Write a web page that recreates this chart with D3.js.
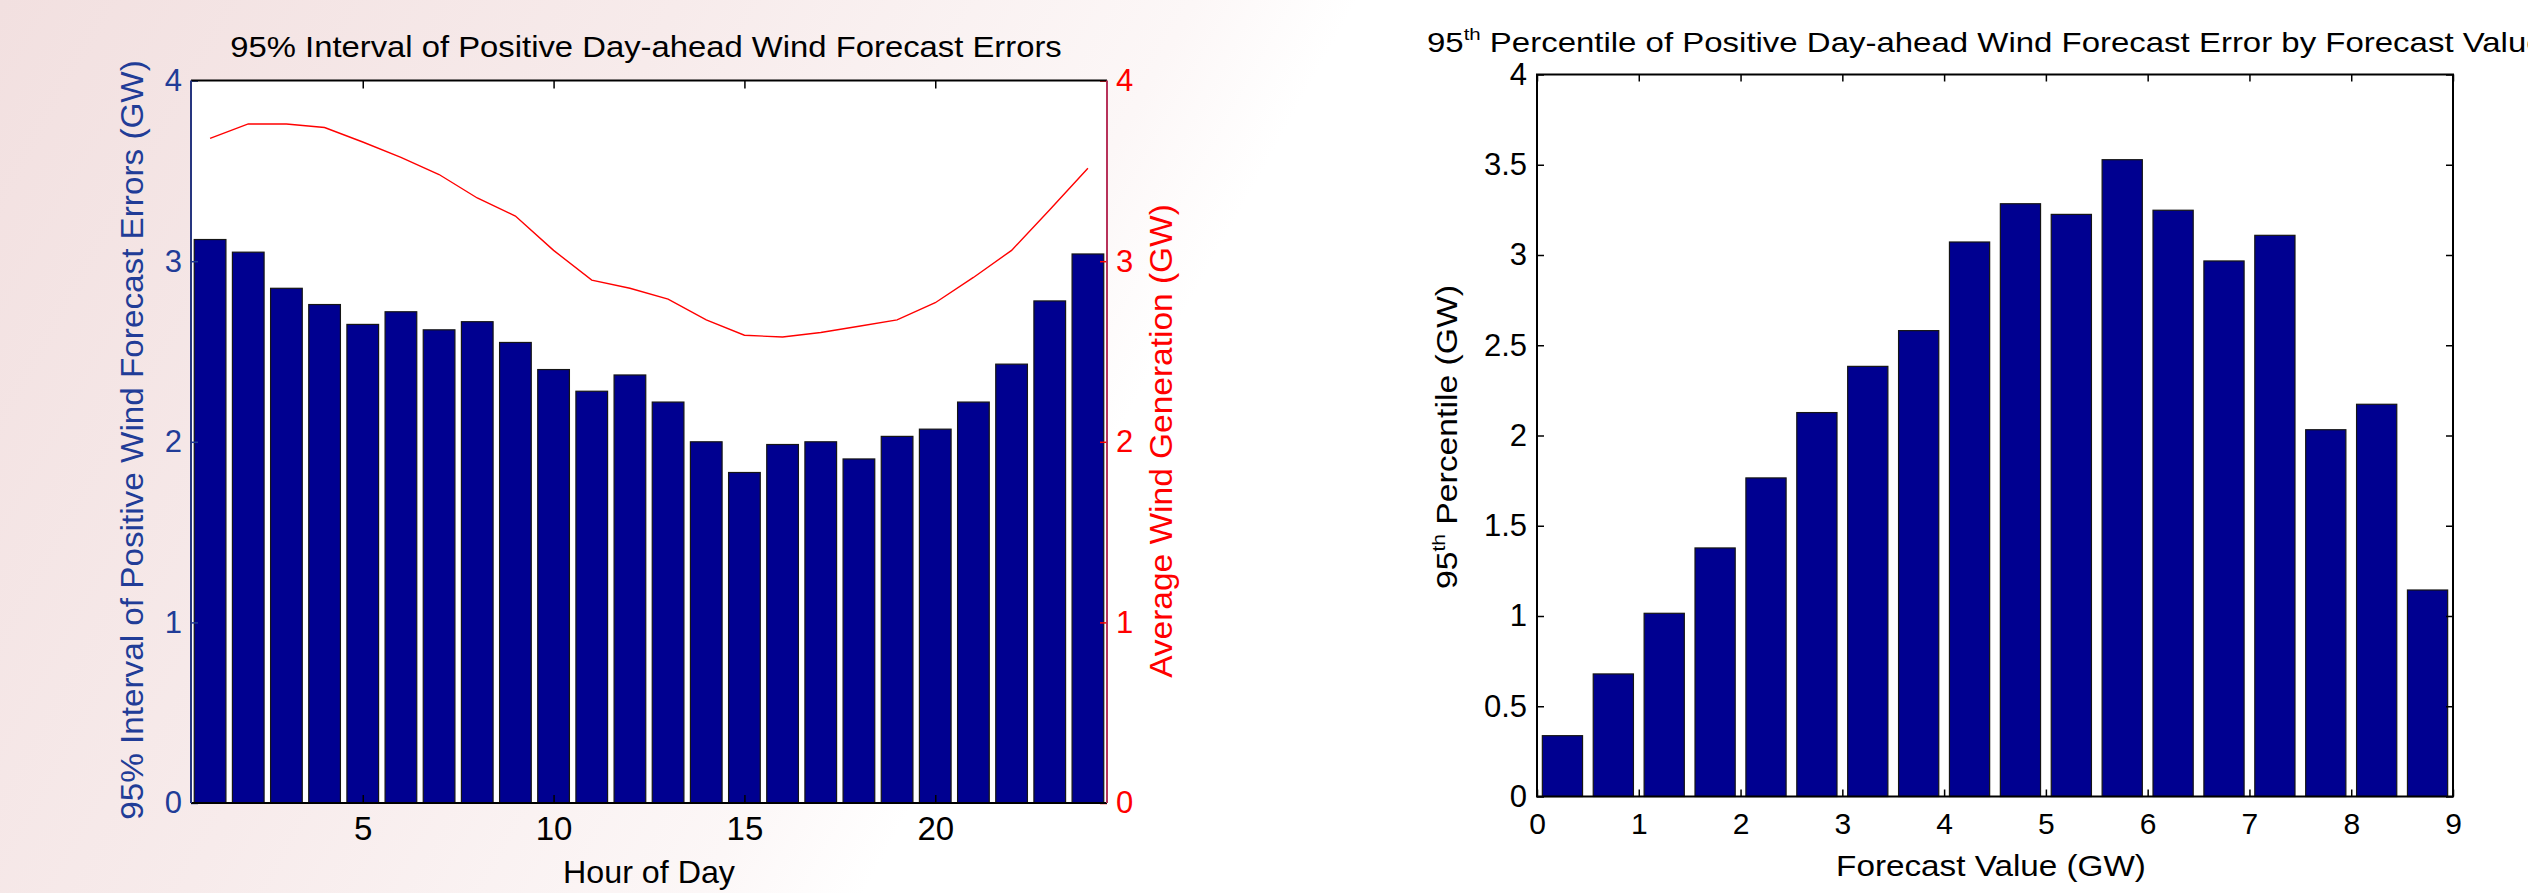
<!DOCTYPE html>
<html>
<head>
<meta charset="utf-8">
<script src="https://cdn.jsdelivr.net/npm/d3@7"></script>
<style>
  body { margin: 0; background: #fff; }
  svg { display: block; }
  text { font-family: "Liberation Sans", Arial, Helvetica, sans-serif; }
</style>
</head>
<body>
<svg id="chart" width="2528" height="893"></svg>
<script>
// ---- Data -------------------------------------------------------------
// Hour of day (1..24)
const hours = [1,2,3,4,5,6,7,8,9,10,11,12,13,14,15,16,17,18,19,20,21,22,23,24];
// 95% interval of positive day-ahead wind forecast errors, GW
const intervalGW = [3.12,3.05,2.85,2.76,2.65,2.72,2.62,2.665,2.55,2.40,2.28,2.37,
                    2.22,2.00,1.83,1.985,2.00,1.905,2.03,2.07,2.22,2.43,2.78,3.04];
// Average wind generation, GW
const avgGenGW = [3.68,3.76,3.76,3.74,3.66,3.575,3.48,3.35,3.25,3.06,2.895,2.85,
                  2.79,2.675,2.59,2.58,2.605,2.64,2.675,2.77,2.91,3.06,3.285,3.515];

// Forecast value bins (GW, bin centres) and 95th percentile of positive error
const forecastBins = [0.25,0.75,1.25,1.75,2.25,2.75,3.25,3.75,4.25,4.75,5.25,5.75,6.25,6.75,7.25,7.75,8.25,8.75];
const pct95GW = [0.337,0.679,1.015,1.377,1.765,2.127,2.383,2.581,3.072,3.284,
                 3.225,3.528,3.248,2.967,3.109,2.032,2.173,1.144];

// Tick values
const hourTicks = [5,10,15,20];
const gwTicks = [0,1,2,3,4];
const pctTicks = [0,0.5,1,1.5,2,2.5,3,3.5,4];
const forecastTicks = [0,1,2,3,4,5,6,7,8,9];

// ---- Setup ------------------------------------------------------------
const svg = d3.select("#chart");
const BAR = "#000090", BAR_EDGE = "#151515";
const BLUE = "#213c97", RED = "#ff0000";

// pink slide background fading to white
const defs = svg.append("defs");
const grad = defs.append("linearGradient").attr("id", "bg")
  .attr("gradientUnits", "userSpaceOnUse")
  .attr("x1", 0).attr("y1", 0).attr("x2", 1040).attr("y2", 575);
grad.append("stop").attr("offset", 0).attr("stop-color", "#f2e0e0");
grad.append("stop").attr("offset", 0.5).attr("stop-color", "#f7ebeb");
grad.append("stop").attr("offset", 0.88).attr("stop-color", "#fcf7f7");
grad.append("stop").attr("offset", 1).attr("stop-color", "#ffffff");
svg.append("rect").attr("width", 2528).attr("height", 893).attr("fill", "url(#bg)");

// text helper: places text with rotation and stretches it along its run to a given length
function label(g, str, opts) {
  const t = g.append("text")
    .attr("font-size", opts.size)
    .attr("fill", opts.color || "#000")
    .attr("text-anchor", opts.anchor || "middle");
  if (opts.sup) {
    t.append("tspan").text(opts.sup[0]);
    t.append("tspan").attr("font-size", opts.size * 0.62).attr("dy", -opts.size * 0.42).text(opts.sup[1]);
    t.append("tspan").attr("dy", opts.size * 0.42).text(opts.sup[2]);
  } else {
    t.text(str);
  }
  let k = 1;
  if (opts.len) k = opts.len / t.node().getBBox().width;
  t.attr("transform", `translate(${opts.x},${opts.y}) rotate(${opts.rot || 0}) scale(${k},1)`);
  return t;
}

// ---- Left chart: hourly interval bars + average generation line -------
const L = { left: 191, right: 1107, top: 80.6, bottom: 803 };
const xL = d3.scaleLinear().domain([0.5, 24.5]).range([L.left, L.right]);
const yL = d3.scaleLinear().domain([0, 4]).range([L.bottom, L.top]);
const yR = d3.scaleLinear().domain([0, 4]).range([L.bottom, L.top]);
const gL = svg.append("g");

gL.append("rect").attr("x", L.left).attr("y", L.top)
  .attr("width", L.right - L.left).attr("height", L.bottom - L.top).attr("fill", "#fff");

const bwL = (xL(2) - xL(1)) * 0.83;
gL.append("g").selectAll("rect").data(hours).join("rect")
  .attr("x", (d) => xL(d) - bwL / 2)
  .attr("y", (d, i) => yL(intervalGW[i]))
  .attr("width", bwL)
  .attr("height", (d, i) => yL(0) - yL(intervalGW[i]))
  .attr("fill", BAR).attr("stroke", BAR_EDGE).attr("stroke-width", 1.2);

gL.append("path").datum(hours)
  .attr("fill", "none").attr("stroke", RED).attr("stroke-width", 1.4)
  .attr("d", d3.line().x((d) => xL(d)).y((d, i) => yR(avgGenGW[i])));

// axes (ticks point inward)
function styleAxis(g, size, color) {
  g.select(".domain").remove();
  g.selectAll(".tick line").attr("stroke", color).attr("stroke-width", 1.5);
  g.selectAll(".tick text").attr("font-size", size).attr("fill", color)
    .attr("font-family", '"Liberation Sans", Arial, sans-serif');
}
gL.append("g").attr("transform", `translate(0,${L.bottom})`)
  .call(d3.axisBottom(xL).tickValues(hourTicks).tickSize(-8).tickPadding(14).tickFormat(d3.format("d")))
  .call((g) => { styleAxis(g, 33, "#000"); g.selectAll(".tick text").attr("dy", "0.71em"); });
gL.append("g").attr("transform", `translate(0,${L.top})`)
  .call(d3.axisTop(xL).tickValues(hourTicks).tickSize(-8).tickFormat(""))
  .call((g) => styleAxis(g, 0, "#000"));
gL.append("g").attr("transform", `translate(${L.left},0)`)
  .call(d3.axisLeft(yL).tickValues(gwTicks).tickSize(-7).tickPadding(9).tickFormat(d3.format("d")))
  .call((g) => styleAxis(g, 31, BLUE));
gL.append("g").attr("transform", `translate(${L.right},0)`)
  .call(d3.axisRight(yR).tickValues(gwTicks).tickSize(-7).tickPadding(9).tickFormat(d3.format("d")))
  .call((g) => styleAxis(g, 31, RED));

// frame
gL.append("line").attr("x1", L.left).attr("x2", L.right).attr("y1", L.top).attr("y2", L.top)
  .attr("stroke", "#000").attr("stroke-width", 2);
gL.append("line").attr("x1", L.left).attr("x2", L.right).attr("y1", L.bottom).attr("y2", L.bottom)
  .attr("stroke", "#000").attr("stroke-width", 2);
gL.append("line").attr("x1", L.left).attr("x2", L.left).attr("y1", L.top).attr("y2", L.bottom)
  .attr("stroke", "#26357f").attr("stroke-width", 2);
gL.append("line").attr("x1", L.right).attr("x2", L.right).attr("y1", L.top).attr("y2", L.bottom)
  .attr("stroke", "#b7325a").attr("stroke-width", 2);

label(gL, "95% Interval of Positive Day-ahead Wind Forecast Errors",
  { x: 646, y: 57, size: 29.5, len: 832 });
label(gL, "Hour of Day", { x: 649, y: 883, size: 32, len: 172 });
label(gL, "95% Interval of Positive Wind Forecast Errors (GW)",
  { x: 143, y: 440, rot: -90, size: 31, color: BLUE, len: 760 });
label(gL, "Average Wind Generation (GW)",
  { x: 1172, y: 441, rot: -90, size: 31, color: RED, len: 474 });

// ---- Right chart: 95th percentile by forecast value -------------------
const R = { left: 1537, right: 2453, top: 74.5, bottom: 796.5 };
const xF = d3.scaleLinear().domain([0, 9]).range([R.left, R.right]);
const yP = d3.scaleLinear().domain([0, 4]).range([R.bottom, R.top]);
const gR = svg.append("g");

gR.append("rect").attr("x", R.left).attr("y", R.top)
  .attr("width", R.right - R.left).attr("height", R.bottom - R.top).attr("fill", "#fff");

const bwR = (xF(0.5) - xF(0)) * 0.79;
gR.append("g").selectAll("rect").data(forecastBins).join("rect")
  .attr("x", (d) => xF(d) - bwR / 2)
  .attr("y", (d, i) => yP(pct95GW[i]))
  .attr("width", bwR)
  .attr("height", (d, i) => yP(0) - yP(pct95GW[i]))
  .attr("fill", BAR).attr("stroke", BAR_EDGE).attr("stroke-width", 1.2);

gR.append("g").attr("transform", `translate(0,${R.bottom})`)
  .call(d3.axisBottom(xF).tickValues(forecastTicks).tickSize(-7).tickPadding(16).tickFormat(d3.format("d")))
  .call((g) => { styleAxis(g, 30, "#000"); g.selectAll(".tick text").attr("dy", "0.71em"); });
gR.append("g").attr("transform", `translate(0,${R.top})`)
  .call(d3.axisTop(xF).tickValues(forecastTicks).tickSize(-7).tickFormat(""))
  .call((g) => styleAxis(g, 0, "#000"));
gR.append("g").attr("transform", `translate(${R.left},0)`)
  .call(d3.axisLeft(yP).tickValues(pctTicks).tickSize(-7).tickPadding(10).tickFormat(d3.format("")))
  .call((g) => styleAxis(g, 31, "#000"));
gR.append("g").attr("transform", `translate(${R.right},0)`)
  .call(d3.axisRight(yP).tickValues(pctTicks).tickSize(-7).tickFormat(""))
  .call((g) => styleAxis(g, 0, "#000"));

gR.append("rect").attr("x", R.left).attr("y", R.top)
  .attr("width", R.right - R.left).attr("height", R.bottom - R.top)
  .attr("fill", "none").attr("stroke", "#000").attr("stroke-width", 2);

label(gR, null, { x: 1427, y: 52, size: 28, anchor: "start", len: 1118,
  sup: ["95", "th", " Percentile of Positive Day-ahead Wind Forecast Error by Forecast Value"] });
label(gR, "Forecast Value (GW)", { x: 1991, y: 876, size: 30, len: 310 });
label(gR, null, { x: 1457, y: 437, rot: -90, size: 29, len: 304,
  sup: ["95", "th", " Percentile (GW)"] });
</script>
</body>
</html>
